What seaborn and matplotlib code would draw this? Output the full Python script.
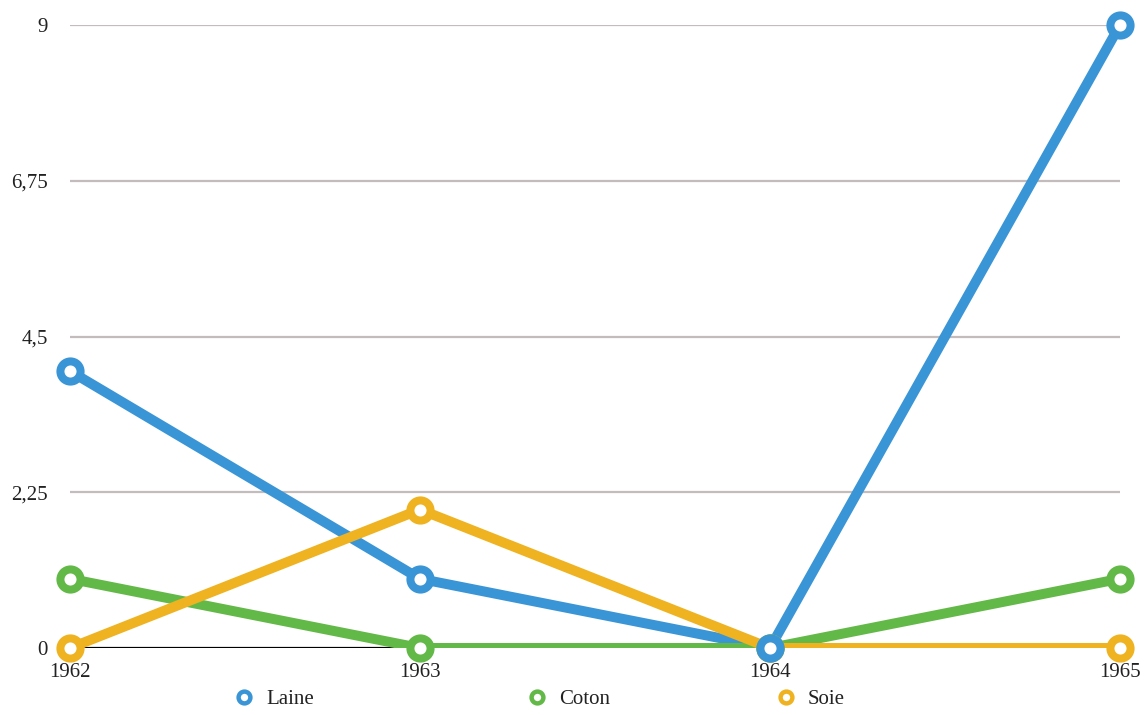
import numpy as np
import pandas as pd
import matplotlib.pyplot as plt
import seaborn as sns
from matplotlib.lines import Line2D

years = [1962, 1963, 1964, 1965]
laine = [4, 1, 0, 9]
coton = [1, 0, 0, 1]
soie = [0, 2, 0, 0]
series_names = ["Laine", "Coton", "Soie"]
colors = {"Laine": "#3a95d6", "Coton": "#63b947", "Soie": "#efb321"}
y_ticks = [0, 2.25, 4.5, 6.75, 9]
y_tick_labels = ["0", "2,25", "4,5", "6,75", "9"]

df = pd.DataFrame({
    "year": years * 3,
    "value": laine + coton + soie,
    "serie": ["Laine"] * 4 + ["Coton"] * 4 + ["Soie"] * 4,
})

sns.set_style("white")
plt.rcParams['font.family'] = ['Liberation Serif', 'DejaVu Serif']

fig = plt.figure(figsize=(11.44, 7.15), dpi=100)
ax = fig.add_axes([0.0612, 0.0937, 0.9178, 0.8713])

# grid lines
for t in y_ticks[1:]:
    ax.axhline(t, color="#c4bcbc", lw=1.6, zorder=0)
ax.axhline(0, color="black", lw=1.6, zorder=1)

# lines first, then markers on top
for name in series_names:
    sub = df[df["serie"] == name]
    sns.lineplot(data=sub, x="year", y="value", color=colors[name], lw=7.2,
                 ax=ax, zorder=2, solid_joinstyle="round", solid_capstyle="round")
for name in ["Soie", "Coton", "Laine"]:
    sub = df[df["serie"] == name]
    ax.plot(sub["year"], sub["value"], ls="none", marker="o", ms=14.5,
            mfc="white", mec=colors[name], mew=5.8, zorder=3, clip_on=False)

ax.set_xlim(1962, 1965)
ax.set_ylim(0, 9)
ax.set_xticks(years)
ax.set_xticklabels([str(y) for y in years], fontsize=15, color="#222222")
ax.set_yticks(y_ticks)
ax.set_yticklabels(y_tick_labels, fontsize=15, color="#222222")
ax.tick_params(axis="y", length=0, pad=16)
ax.tick_params(axis="x", length=0, pad=11)
ax.set_xlabel("")
ax.set_ylabel("")
for s in ax.spines.values():
    s.set_visible(False)

# legend: one entry per position
legend_x = [0.200, 0.456, 0.673]
for name, lx in zip(series_names, legend_x):
    h = Line2D([], [], ls="none", marker="o", ms=8.5, mfc="white",
               mec=colors[name], mew=3.2)
    fig.legend([h], [name], loc="center left", bbox_to_anchor=(lx, 0.022),
               frameon=False, fontsize=15, handletextpad=0.3, handlelength=1.5,
               labelcolor="#222222", borderaxespad=0, borderpad=0)

fig.savefig("out.png", dpi=100, facecolor="white")
